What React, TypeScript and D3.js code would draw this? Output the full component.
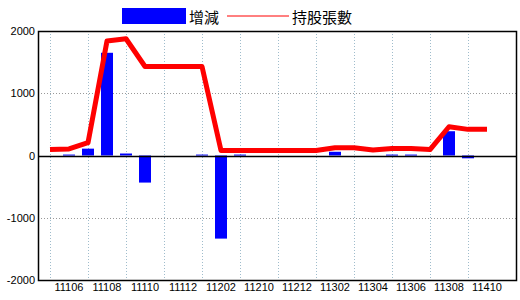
import React from "react";
import * as d3 from "d3";

const categories = [
  "11105", "11106", "11107", "11108", "11109", "11110", "11111", "11112",
  "11201", "11202", "11209", "11210", "11211", "11212", "11301", "11302",
  "11303", "11304", "11305", "11306", "11307", "11308", "11409", "11410",
];
const tickLabels = [
  "11106", "11108", "11110", "11112", "11202", "11210",
  "11212", "11302", "11304", "11306", "11308", "11410",
];
const changeValues = [
  0, 15, 110, 1650, 32, -435, 0, 0, 15, -1335, 15, 0,
  0, 0, 0, 60, 0, 0, 15, 15, 0, 390, -45, 0,
];
const holdingValues = [
  97, 105, 205, 1840, 1875, 1430, 1430, 1430, 1430, 80, 80, 80,
  80, 80, 80, 125, 125, 88, 112, 112, 95, 462, 420, 420,
];
const yTicks = [2000, 1000, 0, -1000, -2000];
const legendNames = ["增減", "持股張數"];

const W = 520;
const H = 300;
const plot = { left: 38, right: 517, top: 31, bottom: 280 };
const font = "'Liberation Sans', Arial, sans-serif";
const cjk = "'Noto Sans CJK TC', 'Noto Sans CJK SC', sans-serif";

export default function App() {
  const x = d3
    .scalePoint<string>()
    .domain(categories)
    .range([50, 487]);
  const y = d3
    .scaleLinear()
    .domain([-2000, 2000])
    .range([plot.bottom, plot.top]);
  const barW = 12;
  const line = d3
    .line<number>()
    .x((_, i) => x(categories[i]) as number)
    .y((d) => y(d));
  const labelSet = new Set(tickLabels);
  const gridCats = categories.filter((_, i) => i % 2 === 0);

  return (
    <svg
      width={W}
      height={H}
      style={{ position: "absolute", left: 0, top: 0, background: "#fff" }}
    >
      {/* legend */}
      <rect x={122} y={8} width={64} height={16} fill="#0000ff" />
      <text x={189} y={16} dominantBaseline="central" fontFamily={cjk} fontSize={15} fill="#000">
        {legendNames[0]}
      </text>
      <line x1={227} x2={289} y1={16} y2={16} stroke="#ff0000" strokeWidth={1} />
      <text x={292} y={16} dominantBaseline="central" fontFamily={cjk} fontSize={15} fill="#000">
        {legendNames[1]}
      </text>

      {/* vertical grid */}
      {gridCats.map((c) => (
        <line
          key={"vg" + c}
          x1={(x(c) as number) + 0.5}
          x2={(x(c) as number) + 0.5}
          y1={plot.top}
          y2={plot.bottom}
          stroke="#9fbccc"
          strokeDasharray="1 2"
        />
      ))}
      {/* horizontal grid */}
      {yTicks
        .filter((t) => t !== 0 && Math.abs(t) !== 2000)
        .map((t) => (
          <line
            key={"hg" + t}
            x1={plot.left}
            x2={plot.right}
            y1={Math.round(y(t)) + 0.5}
            y2={Math.round(y(t)) + 0.5}
            stroke="#999"
            strokeDasharray="1 2"
          />
        ))}

      {/* bars */}
      {changeValues.map((v, i) =>
        v === 0 ? null : (
          <rect
            key={"b" + i}
            x={(x(categories[i]) as number) - barW / 2}
            y={Math.min(y(v), y(0))}
            width={barW}
            height={Math.max(1, Math.abs(y(v) - y(0)))}
            fill="#0000ff"
          />
        )
      )}

      {/* zero line */}
      <line
        x1={plot.left}
        x2={plot.right}
        y1={Math.round(y(0)) + 0.5}
        y2={Math.round(y(0)) + 0.5}
        stroke="#000"
        strokeWidth={1.5}
      />

      {/* holdings line */}
      <path
        d={line(holdingValues) || ""}
        fill="none"
        stroke="#ff0000"
        strokeWidth={5}
        strokeLinejoin="round"
      />

      {/* frame */}
      <rect
        x={plot.left + 0.5}
        y={plot.top + 0.5}
        width={plot.right - plot.left - 1}
        height={plot.bottom - plot.top}
        fill="none"
        stroke="#000"
        strokeWidth={1.5}
      />

      {/* y labels */}
      {yTicks.map((t) => (
        <text
          key={"yl" + t}
          x={35}
          y={y(t)}
          textAnchor="end"
          dominantBaseline="central"
          fontFamily={font}
          fontSize={11}
          fill="#000"
        >
          {t}
        </text>
      ))}

      {/* x labels */}
      {categories
        .filter((c) => labelSet.has(c))
        .map((c) => (
          <text
            key={"xl" + c}
            x={x(c) as number}
            y={287}
            textAnchor="middle"
            dominantBaseline="central"
            fontFamily={font}
            fontSize={11}
            fill="#000"
          >
            {c}
          </text>
        ))}
    </svg>
  );
}
